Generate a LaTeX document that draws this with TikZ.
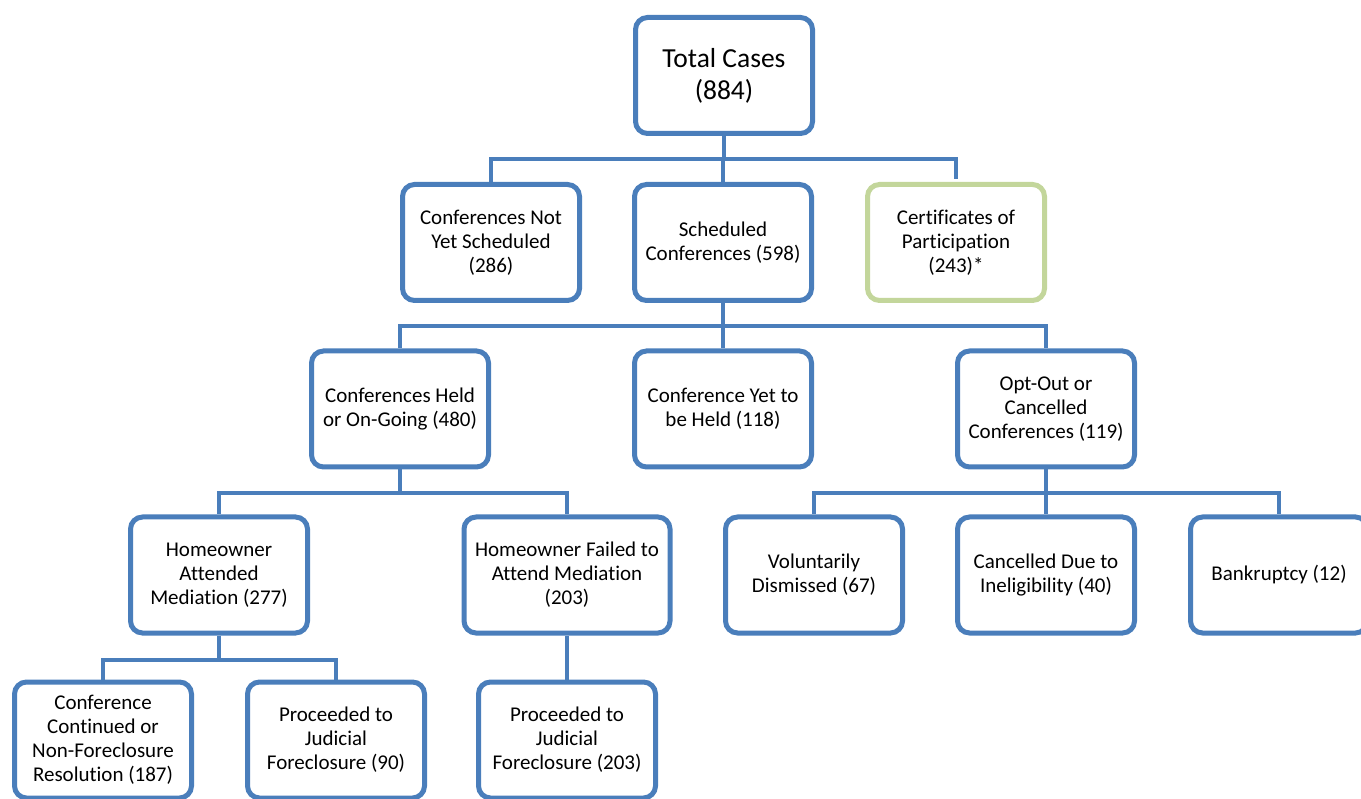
\documentclass[tikz,border=0pt]{standalone}
\usepackage{fontspec}
\setmainfont{Carlito}[Ligatures=NoCommon, RawFeature=-liga]
\usetikzlibrary{positioning, calc}

\definecolor{boxblue}{RGB}{74,126,187}
\definecolor{boxgreen}{RGB}{195,214,155}

\begin{document}
\begin{tikzpicture}[
    x=1pt, y=-1pt,
    casebox/.style={draw=boxblue, line width=5pt, rounded corners=12pt, fill=white,
        minimum width=177pt, minimum height=116pt, inner sep=0pt, align=center,
        font=\fontsize{21}{24}\selectfont},
    topbox/.style={casebox, font=\fontsize{27.5}{32}\selectfont},
    certbox/.style={casebox, draw=boxgreen},
    link/.style={draw=boxblue, line width=4.5pt}
]
    \useasboundingbox (0,0) rectangle (1361,799);
    \clip (0,0) rectangle (1361,799);

    % bus levels
    \coordinate (bus1) at (0,159);
    \coordinate (bus2) at (0,326);
    \coordinate (bus3) at (0,493);
    \coordinate (bus4) at (0,660);

    \node[topbox]  (Total)    at (724,75.5)  {Total Cases\\(884)};

    \node[casebox] (NotSched) at (491,242.5) {Conferences Not\\Yet Scheduled\\(286)};
    \node[casebox] (Sched)    at (723,242.5) {Scheduled\\Conferences (598)};
    \node[certbox] (Cert)     at (956,242.5) {Certificates of\\Participation\\(243)*};

    \node[casebox] (Held)     at (400,409)   {Conferences Held\\or On-Going (480)};
    \node[casebox] (YetHeld)  at (723,409)   {Conference Yet to\\be Held (118)};
    \node[casebox] (OptOut)   at (1046,409)  {Opt-Out or\\Cancelled\\Conferences (119)};

    \node[casebox] (Attended) at (219,575)   {Homeowner\\Attended\\Mediation (277)};
    \node[casebox, minimum width=206pt] (Failed) at (567,575) {Homeowner Failed to\\Attend Mediation\\(203)};
    \node[casebox] (Volun)    at (814,575)   {Voluntarily\\Dismissed (67)};
    \node[casebox] (Inelig)   at (1046,575)  {Cancelled Due to\\Ineligibility (40)};
    \node[casebox] (Bankr)    at (1279,575)  {Bankruptcy (12)};

    \node[casebox] (Contd)    at (103,740)   {Conference\\Continued or\\Non-Foreclosure\\Resolution (187)};
    \node[casebox] (Judic)    at (336,740)   {Proceeded to\\Judicial\\Foreclosure (90)};
    \node[casebox] (JudicF)   at (567,740)   {Proceeded to\\Judicial\\Foreclosure (203)};

    % tree links
    \foreach \kid in {NotSched, Sched}
        \draw[link] (Total.south) -- (Total.south |- bus1) -| (\kid.north);
    \draw[link] (Total.south) -- (Total.south |- bus1) -| ($(Cert.north)+(0,-2.5)$);
    \foreach \kid in {Held, YetHeld, OptOut}
        \draw[link] (Sched.south) -- (Sched.south |- bus2) -| (\kid.north);
    \foreach \kid in {Attended, Failed}
        \draw[link] (Held.south) -- (Held.south |- bus3) -| (\kid.north);
    \foreach \kid in {Volun, Inelig, Bankr}
        \draw[link] (OptOut.south) -- (OptOut.south |- bus3) -| (\kid.north);
    \foreach \kid in {Contd, Judic}
        \draw[link] (Attended.south) -- (Attended.south |- bus4) -| (\kid.north);
    \draw[link] (Failed.south) -- (JudicF.north);
\end{tikzpicture}
\end{document}
